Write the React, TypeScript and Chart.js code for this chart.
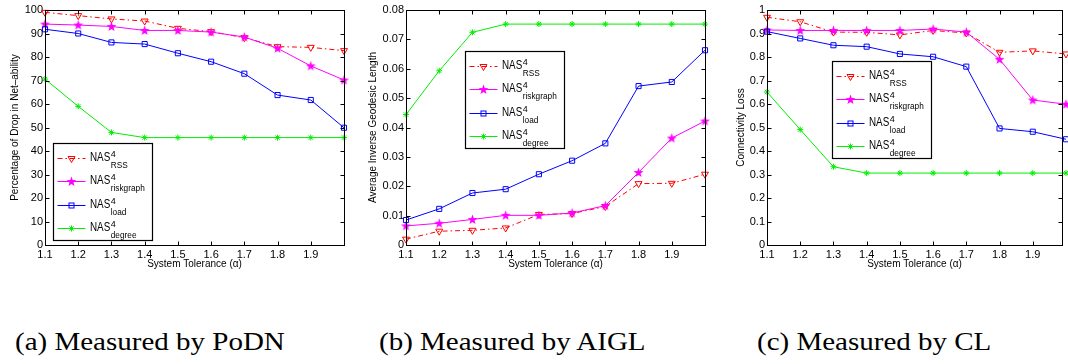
import React, { useEffect, useRef } from 'react';
import { Chart, registerables } from 'chart.js';

Chart.register(...registerables);

// ---------- data ----------
const xValues = [1.1, 1.2, 1.3, 1.4, 1.5, 1.6, 1.7, 1.8, 1.9, 2.0];
const xTickValues = [1.1, 1.2, 1.3, 1.4, 1.5, 1.6, 1.7, 1.8, 1.9];
const xTickLabels = ['1.1', '1.2', '1.3', '1.4', '1.5', '1.6', '1.7', '1.8', '1.9'];
const seriesNames = ['RSS', 'riskgraph', 'load', 'degree'];

const podnRSS = [99.0, 97.6, 96.2, 95.3, 92.2, 90.8, 88.2, 84.4, 84.1, 82.7];
const podnRisk = [94.0, 93.6, 93.0, 91.3, 91.3, 90.6, 88.5, 83.7, 76.2, 70.2];
const podnLoad = [91.8, 90.0, 86.2, 85.5, 81.6, 78.0, 72.9, 63.8, 61.7, 49.9];
const podnDegree = [70.6, 59.0, 47.9, 45.7, 45.7, 45.7, 45.7, 45.7, 45.7, 45.7];
const podnYTicks = [0, 10, 20, 30, 40, 50, 60, 70, 80, 90, 100];
const podnYLabels = ['0', '10', '20', '30', '40', '50', '60', '70', '80', '90', '100'];

const aiglRSS = [0.002, 0.0047, 0.005, 0.0058, 0.0104, 0.0107, 0.0131, 0.0209, 0.021, 0.0241];
const aiglRisk = [0.0065, 0.0074, 0.0087, 0.0101, 0.0101, 0.0109, 0.0134, 0.0247, 0.0364, 0.0422];
const aiglLoad = [0.0085, 0.0123, 0.0177, 0.019, 0.0241, 0.0287, 0.0346, 0.0541, 0.0555, 0.0663];
const aiglDegree = [0.0444, 0.0593, 0.0724, 0.0752, 0.0752, 0.0752, 0.0752, 0.0752, 0.0752, 0.0752];
const aiglYTicks = [0, 0.01, 0.02, 0.03, 0.04, 0.05, 0.06, 0.07, 0.08];
const aiglYLabels = ['0', '0.01', '0.02', '0.03', '0.04', '0.05', '0.06', '0.07', '0.08'];

const clRSS = [0.969, 0.95, 0.906, 0.905, 0.894, 0.913, 0.902, 0.82, 0.826, 0.813];
const clRisk = [0.915, 0.913, 0.913, 0.913, 0.913, 0.919, 0.906, 0.79, 0.617, 0.599];
const clLoad = [0.908, 0.879, 0.85, 0.844, 0.813, 0.801, 0.759, 0.496, 0.482, 0.45];
const clDegree = [0.651, 0.491, 0.333, 0.306, 0.306, 0.306, 0.306, 0.306, 0.306, 0.306];
const clYTicks = [0, 0.1, 0.2, 0.3, 0.4, 0.5, 0.6, 0.7, 0.8, 0.9, 1];
const clYLabels = ['0', '0.1', '0.2', '0.3', '0.4', '0.5', '0.6', '0.7', '0.8', '0.9', '1'];

const captions = ['(a) Measured by PoDN', '(b) Measured by AIGL', '(c) Measured by CL'];

// ---------- styles ----------
const FONT = "'Liberation Sans', Arial, Helvetica, sans-serif";
const COLORS = ['#ff0000', '#ff00ff', '#0000ff', '#00ee00'];
const DASHES = [[5, 3, 1.5, 3], [], [], []];
const MARKERS = ['tri', 'star', 'square', 'ast'];

function makeStar(color: string) {
  const c = document.createElement('canvas');
  c.width = 11;
  c.height = 11;
  const ctx = c.getContext('2d')!;
  ctx.fillStyle = color;
  ctx.beginPath();
  for (let i = 0; i < 10; i++) {
    const r = i % 2 === 0 ? 5.2 : 2.1;
    const a = -Math.PI / 2 + (i * Math.PI) / 5;
    ctx.lineTo(5.5 + r * Math.cos(a), 5.8 + r * Math.sin(a));
  }
  ctx.closePath();
  ctx.fill();
  return c;
}

function drawMarker(ctx: CanvasRenderingContext2D, kind: string, color: string, x: number, y: number, star: HTMLCanvasElement) {
  ctx.save();
  ctx.strokeStyle = color;
  ctx.fillStyle = color;
  ctx.lineWidth = 1;
  ctx.setLineDash([]);
  if (kind === 'tri') {
    const r = 4;
    ctx.beginPath();
    ctx.moveTo(x - r * 0.866, y - r * 0.5);
    ctx.lineTo(x + r * 0.866, y - r * 0.5);
    ctx.lineTo(x, y + r);
    ctx.closePath();
    ctx.stroke();
  } else if (kind === 'star') {
    ctx.drawImage(star, x - star.width / 2, y - star.height / 2);
  } else if (kind === 'square') {
    ctx.strokeRect(x - 2.5, y - 2.5, 5, 5);
  } else {
    const r = 3;
    ctx.beginPath();
    ctx.moveTo(x - r, y); ctx.lineTo(x + r, y);
    ctx.moveTo(x, y - r); ctx.lineTo(x, y + r);
    const d = r * 0.707;
    ctx.moveTo(x - d, y - d); ctx.lineTo(x + d, y + d);
    ctx.moveTo(x - d, y + d); ctx.lineTo(x + d, y - d);
    ctx.stroke();
  }
  ctx.restore();
}

type PanelCfg = {
  left: number;
  width: number;
  yWidth: number;
  padRight: number;
  xMax: number;
  yMin: number;
  yMax: number;
  yTicks: number[];
  yLabels: string[];
  yTitle: string;
  yTitlePad: number;
  series: number[][];
  legendDx: number;
  legendDy: number;
};

const panels: PanelCfg[] = [
  {
    left: 0, width: 355, yWidth: 45, padRight: 11, xMax: 2.0,
    yMin: 0, yMax: 100, yTicks: podnYTicks, yLabels: podnYLabels,
    yTitle: 'Percentage of Drop in Net\u2013ability', yTitlePad: 9,
    series: [podnRSS, podnRisk, podnLoad, podnDegree], legendDx: 8, legendDy: 133,
  },
  {
    left: 355, width: 360, yWidth: 51, padRight: 10, xMax: 2.0,
    yMin: 0, yMax: 0.08, yTicks: aiglYTicks, yLabels: aiglYLabels,
    yTitle: 'Average Inverse Geodesic Length', yTitlePad: 12,
    series: [aiglRSS, aiglRisk, aiglLoad, aiglDegree], legendDx: 59, legendDy: 41,
  },
  {
    left: 710, width: 358, yWidth: 57, padRight: 6, xMax: 1.988,
    yMin: 0, yMax: 1, yTicks: clYTicks, yLabels: clYLabels,
    yTitle: 'Connectivity Loss', yTitlePad: 25,
    series: [clRSS, clRisk, clLoad, clDegree], legendDx: 65, legendDy: 51,
  },
];

const CANVAS_H = 276;

function Panel({ cfg }: { cfg: PanelCfg }) {
  const ref = useRef<HTMLCanvasElement | null>(null);
  useEffect(() => {
    const star = makeStar(COLORS[1]);
    const frame = {
      id: 'frame',
      afterDraw(chart: any) {
        const { ctx, chartArea } = chart;
        const l = Math.round(chartArea.left) + 0.5;
        const t = Math.round(chartArea.top) + 0.5;
        const r = Math.round(chartArea.right) + 0.5;
        const b = Math.round(chartArea.bottom) + 0.5;
        ctx.save();
        ctx.strokeStyle = '#000';
        ctx.lineWidth = 1;
        ctx.setLineDash([]);
        ctx.beginPath();
        const tl = 4;
        const xs = chart.scales.x;
        xTickValues.forEach((v) => {
          const px = Math.round(xs.getPixelForValue(v)) + 0.5;
          ctx.moveTo(px, b); ctx.lineTo(px, b - tl);
          ctx.moveTo(px, t); ctx.lineTo(px, t + tl);
        });
        const ys = chart.scales.y;
        cfg.yTicks.forEach((v) => {
          const py = Math.round(ys.getPixelForValue(v)) + 0.5;
          ctx.moveTo(l, py); ctx.lineTo(l + tl, py);
          ctx.moveTo(r, py); ctx.lineTo(r - tl, py);
        });
        ctx.stroke();
        ctx.strokeRect(l, t, r - l, b - t);
        ctx.restore();
      },
    };
    const legend = {
      id: 'nasLegend',
      afterDatasetsDraw(chart: any) {
        const { ctx, chartArea } = chart;
        const bx = Math.round(chartArea.left + cfg.legendDx) + 0.5;
        const by = Math.round(chartArea.top + cfg.legendDy) + 0.5;
        const bw = 99;
        const bh = 97;
        ctx.save();
        ctx.fillStyle = '#fff';
        ctx.fillRect(bx, by, bw, bh);
        ctx.strokeStyle = '#000';
        ctx.lineWidth = 1.2;
        ctx.strokeRect(bx, by, bw, bh);
        seriesNames.forEach((name, i) => {
          const cy = Math.round(by + 14 + i * 23.5) + 0.5;
          ctx.save();
          ctx.strokeStyle = COLORS[i];
          ctx.lineWidth = 1;
          ctx.setLineDash(DASHES[i]);
          ctx.beginPath();
          ctx.moveTo(bx + 4, cy);
          ctx.lineTo(bx + 32, cy);
          ctx.stroke();
          ctx.restore();
          drawMarker(ctx, MARKERS[i], COLORS[i], bx + 18, cy, star);
          ctx.fillStyle = '#000';
          ctx.textAlign = 'left';
          ctx.textBaseline = 'alphabetic';
          const tx = bx + 36.5;
          const ty = cy + 2.5;
          ctx.save();
          ctx.translate(tx, ty);
          ctx.scale(0.82, 1);
          ctx.font = `12px ${FONT}`;
          ctx.fillText('NAS', 0, 0);
          const w = ctx.measureText('NAS').width * 0.82;
          ctx.restore();
          ctx.font = `9px ${FONT}`;
          ctx.fillText('4', tx + w + 0.5, ty - 4.5);
          ctx.save();
          ctx.translate(tx + w + 0.5, ty + 6.5);
          ctx.scale(0.92, 1);
          ctx.font = `9px ${FONT}`;
          ctx.fillText(name, 0, 0);
          ctx.restore();
        });
        ctx.restore();
      },
    };

    const datasets = cfg.series.map((arr, i) => ({
      label: 'NAS4 ' + seriesNames[i],
      data: xValues.map((x, j) => ({ x, y: arr[j] })),
      borderColor: COLORS[i],
      borderWidth: 1,
      borderDash: DASHES[i],
      backgroundColor: 'transparent',
      pointBorderColor: COLORS[i],
      pointBackgroundColor: MARKERS[i] === 'star' ? COLORS[i] : 'transparent',
      pointBorderWidth: 1,
      pointStyle: MARKERS[i] === 'tri' ? 'triangle' : MARKERS[i] === 'star' ? star : MARKERS[i] === 'square' ? 'rect' : 'star',
      pointRotation: MARKERS[i] === 'tri' ? 180 : 0,
      pointRadius: MARKERS[i] === 'tri' ? 4 : MARKERS[i] === 'square' ? 3.6 : 3,
      pointHoverRadius: 3,
      tension: 0,
      fill: false,
      clip: false,
      order: 4 - i,
    }));

    const chart = new Chart(ref.current as HTMLCanvasElement, {
      type: 'line',
      data: { datasets } as any,
      options: {
        animation: false,
        responsive: false,
        devicePixelRatio: 1,
        layout: { padding: { top: 10, right: cfg.padRight, left: 0, bottom: 0 } },
        plugins: { legend: { display: false }, tooltip: { enabled: false } },
        scales: {
          x: {
            type: 'linear',
            min: 1.1,
            max: cfg.xMax,
            afterBuildTicks: (s: any) => { s.ticks = xTickValues.map((v) => ({ value: v })); },
            afterFit: (s: any) => { s.height = 31; },
            ticks: {
              autoSkip: false,
              maxRotation: 0,
              padding: 3,
              color: '#000',
              font: { family: FONT, size: 11 },
              callback: (_v: any, idx: number) => xTickLabels[idx],
            },
            grid: { display: false, drawTicks: false, tickLength: 0 },
            border: { display: false },
            title: {
              display: true,
              text: 'System Tolerance (\u03b1)',
              color: '#000',
              font: { family: FONT, size: 10 },
              padding: { top: 0, bottom: 6 },
            },
          },
          y: {
            type: 'linear',
            min: cfg.yMin,
            max: cfg.yMax,
            afterBuildTicks: (s: any) => { s.ticks = cfg.yTicks.map((v) => ({ value: v })); },
            afterFit: (s: any) => { s.width = cfg.yWidth; },
            ticks: {
              autoSkip: false,
              padding: 2,
              color: '#000',
              font: { family: FONT, size: 11 },
              callback: (_v: any, idx: number) => cfg.yLabels[idx],
            },
            grid: { display: false, drawTicks: false, tickLength: 0 },
            border: { display: false },
            title: {
              display: true,
              text: cfg.yTitle,
              color: '#000',
              font: { family: FONT, size: 10 },
              padding: { top: cfg.yTitlePad, bottom: 0 },
            },
          },
        },
      } as any,
      plugins: [legend, frame],
    });
    return () => chart.destroy();
  }, []);
  return (
    <canvas
      ref={ref}
      width={cfg.width}
      height={CANVAS_H}
      style={{ position: 'absolute', left: cfg.left, top: 0, width: cfg.width, height: CANVAS_H }}
    />
  );
}

const captionLefts = [15, 379, 757];

export default function App() {
  return (
    <div style={{ position: 'absolute', left: 0, top: 0, width: 1068, height: 364, background: '#fff', overflow: 'hidden' }}>
      {panels.map((p, i) => (
        <Panel key={i} cfg={p} />
      ))}
      {captions.map((c, i) => (
        <div
          key={c}
          style={{
            position: 'absolute',
            left: captionLefts[i],
            top: 329,
            fontFamily: "'Liberation Serif', 'Times New Roman', serif",
            fontSize: 25,
            lineHeight: '26px',
            color: '#000',
            whiteSpace: 'nowrap',
            transform: 'scaleX(1.16)',
            transformOrigin: 'left top',
          }}
        >
          {c}
        </div>
      ))}
    </div>
  );
}
